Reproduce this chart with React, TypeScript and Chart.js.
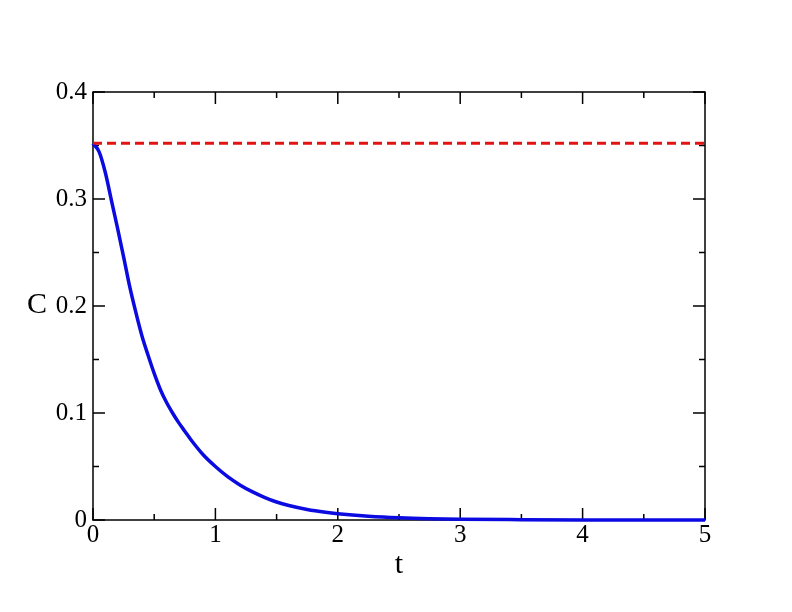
import { useEffect, useRef } from "react";
import { Chart, registerables } from "chart.js";

Chart.register(...registerables);

// Blue decaying curve C(t)
const tValues = [0, 0.05, 0.1, 0.15, 0.2, 0.25, 0.3, 0.35, 0.4, 0.45, 0.5, 0.55, 0.6, 0.65, 0.7, 0.75, 0.8, 0.9, 1.0, 1.1, 1.2, 1.3, 1.4, 1.5, 1.6, 1.75, 1.9, 2.0, 2.25, 2.5, 2.75, 3.0, 3.5, 4.0, 4.5, 5.0];
const cValues = [0.352, 0.344, 0.325, 0.299, 0.273, 0.246, 0.218, 0.194, 0.172, 0.154, 0.137, 0.122, 0.110, 0.100, 0.091, 0.083, 0.075, 0.061, 0.050, 0.0405, 0.0328, 0.0265, 0.0212, 0.0168, 0.0135, 0.0098, 0.0072, 0.0059, 0.0036, 0.0021, 0.0012, 0.0007, 0.0003, 0.0001, 0.00004, 0.00001];

// Red dashed plateau
const plateauT = [0, 5];
const plateauC = [0.352, 0.352];

// Tick labels
const xTickLabels = ["0", "1", "2", "3", "4", "5"];
const yTickLabels = ["0", "0.1", "0.2", "0.3", "0.4"];
const xMajorTicks = [0, 1, 2, 3, 4, 5];
const xMinorTicks = [0.5, 1.5, 2.5, 3.5, 4.5];
const yMajorTicks = [0, 0.1, 0.2, 0.3, 0.4];
const yMinorTicks = [0.05, 0.15, 0.25, 0.35];

const xTitle = "t";
const yTitle = "C";

const FONT = "'Liberation Serif', 'Times New Roman', serif";

const framePlugin = {
  id: "frame",
  beforeDatasetsDraw(chart: any) {
    const { ctx, chartArea: a, scales } = chart;
    const x = scales.x;
    const y = scales.y;
    ctx.save();
    ctx.strokeStyle = "#000";
    ctx.lineWidth = 1.5;
    ctx.strokeRect(a.left, a.top, a.right - a.left, a.bottom - a.top);
    ctx.beginPath();
    const xt = (vals: number[], len: number) => {
      vals.forEach((v) => {
        const px = x.getPixelForValue(v);
        ctx.moveTo(px, a.bottom);
        ctx.lineTo(px, a.bottom - len);
        ctx.moveTo(px, a.top);
        ctx.lineTo(px, a.top + len);
      });
    };
    const yt = (vals: number[], len: number) => {
      vals.forEach((v) => {
        const py = y.getPixelForValue(v);
        ctx.moveTo(a.left, py);
        ctx.lineTo(a.left + len, py);
        ctx.moveTo(a.right, py);
        ctx.lineTo(a.right - len, py);
      });
    };
    xt(xMajorTicks, 12);
    xt(xMinorTicks, 6);
    yt(yMajorTicks, 12);
    yt(yMinorTicks, 6);
    ctx.stroke();
    ctx.restore();
  },
  afterDraw(chart: any) {
    const { ctx, chartArea: a } = chart;
    ctx.save();
    ctx.fillStyle = "#000";
    ctx.textAlign = "center";
    ctx.textBaseline = "alphabetic";
    ctx.font = `30px ${FONT}`;
    ctx.fillText(yTitle, 37, 313);
    ctx.font = `30px ${FONT}`;
    ctx.fillText(xTitle, (a.left + a.right) / 2, 573);
    ctx.restore();
  },
};

export default function App() {
  const ref = useRef<HTMLCanvasElement | null>(null);

  useEffect(() => {
    if (!ref.current) return;
    const chart = new Chart(ref.current, {
      type: "line",
      data: {
        datasets: [
          {
            label: "plateau",
            data: plateauT.map((t, i) => ({ x: t, y: plateauC[i] })),
            borderColor: "rgb(225,20,20)",
            borderWidth: 3,
            borderDash: [9, 5],
            pointRadius: 0,
            fill: false,
          },
          {
            label: "C",
            data: tValues.map((t, i) => ({ x: t, y: cValues[i] })),
            borderColor: "rgb(10,10,225)",
            borderWidth: 3.5,
            pointRadius: 0,
            cubicInterpolationMode: "monotone",
            fill: false,
            clip: 4,
          },
        ],
      },
      options: {
        animation: false,
        responsive: false,
        layout: { padding: { top: 92, right: 87, left: 0, bottom: 0 } },
        plugins: { legend: { display: false }, tooltip: { enabled: false } },
        scales: {
          x: {
            type: "linear",
            min: 0,
            max: 5,
            grid: { display: false, drawTicks: false, tickLength: 0 },
            border: { display: false },
            ticks: {
              stepSize: 1,
              padding: 0,
              color: "#000",
              font: { family: FONT, size: 25 },
              maxRotation: 0,
              callback: (v: any) => xTickLabels[Math.round(Number(v))] ?? "",
            },
            afterFit: (s: any) => {
              s.height = 92;
            },
          },
          y: {
            type: "linear",
            min: 0,
            max: 0.4,
            grid: { display: false, drawTicks: false, tickLength: 0 },
            border: { display: false },
            ticks: {
              stepSize: 0.1,
              padding: 6,
              color: "#000",
              font: { family: FONT, size: 25 },
              callback: (v: any) => yTickLabels[Math.round(Number(v) * 10)] ?? "",
            },
            afterFit: (s: any) => {
              s.width = 93;
            },
          },
        },
      },
      plugins: [framePlugin],
    });
    return () => chart.destroy();
  }, []);

  return (
    <div style={{ position: "absolute", left: 0, top: 0, width: 792, height: 612, background: "#fff" }}>
      <canvas ref={ref} width={792} height={612} />
    </div>
  );
}
